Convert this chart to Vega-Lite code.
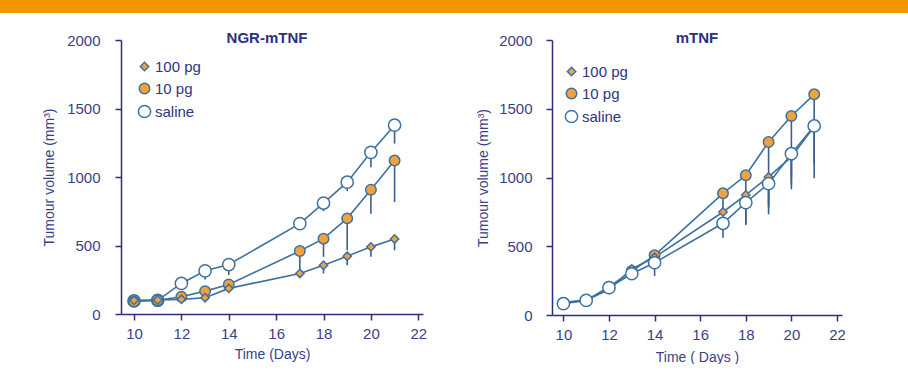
{
  "$schema": "https://vega.github.io/schema/vega-lite/v6.json",
  "background": "white",
  "padding": 0,
  "spacing": 18,
  "config": {
    "font": "Liberation Sans",
    "view": {"stroke": null},
    "axis": {
      "domainColor": "#2b2f7e", "tickColor": "#2b2f7e", "labelColor": "#3a3f88", "titleColor": "#3a3f88",
      "labelFont": "Liberation Sans", "titleFont": "Liberation Sans",
      "labelFontSize": 15, "titleFontSize": 14, "titleFontWeight": "normal",
      "grid": false, "domainWidth": 1.5, "tickWidth": 1.5, "tickSize": 6, "format": "d"
    },
    "legend": {"labelFont": "Liberation Sans", "labelFontSize": 15, "labelColor": "#2d3580", "padding": 0, "rowPadding": 5, "labelOffset": 3},
    "title": {"font": "Liberation Sans", "fontSize": 15, "fontWeight": "bold", "color": "#2b2f7e", "baseline": "alphabetic", "offset": -13}
  },
  "datasets": {
    "tumour": [
      {"panel": "NGR-mTNF", "series": "saline", "day": 10, "v": 95, "lo": 95},
      {"panel": "NGR-mTNF", "series": "saline", "day": 11, "v": 100, "lo": 100},
      {"panel": "NGR-mTNF", "series": "saline", "day": 12, "v": 223, "lo": 223},
      {"panel": "NGR-mTNF", "series": "saline", "day": 13, "v": 315, "lo": 252},
      {"panel": "NGR-mTNF", "series": "saline", "day": 14, "v": 361, "lo": 284},
      {"panel": "NGR-mTNF", "series": "saline", "day": 17, "v": 660, "lo": 660},
      {"panel": "NGR-mTNF", "series": "saline", "day": 18, "v": 810, "lo": 751},
      {"panel": "NGR-mTNF", "series": "saline", "day": 19, "v": 962, "lo": 897},
      {"panel": "NGR-mTNF", "series": "saline", "day": 20, "v": 1180, "lo": 1071},
      {"panel": "NGR-mTNF", "series": "saline", "day": 21, "v": 1378, "lo": 1244},
      {"panel": "NGR-mTNF", "series": "10 pg", "day": 10, "v": 92, "lo": 92},
      {"panel": "NGR-mTNF", "series": "10 pg", "day": 11, "v": 100, "lo": 100},
      {"panel": "NGR-mTNF", "series": "10 pg", "day": 12, "v": 126, "lo": 126},
      {"panel": "NGR-mTNF", "series": "10 pg", "day": 13, "v": 167, "lo": 140},
      {"panel": "NGR-mTNF", "series": "10 pg", "day": 14, "v": 216, "lo": 216},
      {"panel": "NGR-mTNF", "series": "10 pg", "day": 17, "v": 460, "lo": 296},
      {"panel": "NGR-mTNF", "series": "10 pg", "day": 18, "v": 550, "lo": 417},
      {"panel": "NGR-mTNF", "series": "10 pg", "day": 19, "v": 698, "lo": 465},
      {"panel": "NGR-mTNF", "series": "10 pg", "day": 20, "v": 907, "lo": 732},
      {"panel": "NGR-mTNF", "series": "10 pg", "day": 21, "v": 1120, "lo": 817},
      {"panel": "NGR-mTNF", "series": "100 pg", "day": 10, "v": 100, "lo": 100},
      {"panel": "NGR-mTNF", "series": "100 pg", "day": 11, "v": 102, "lo": 102},
      {"panel": "NGR-mTNF", "series": "100 pg", "day": 12, "v": 107, "lo": 107},
      {"panel": "NGR-mTNF", "series": "100 pg", "day": 13, "v": 119, "lo": 119},
      {"panel": "NGR-mTNF", "series": "100 pg", "day": 14, "v": 187, "lo": 187},
      {"panel": "NGR-mTNF", "series": "100 pg", "day": 17, "v": 296, "lo": 296},
      {"panel": "NGR-mTNF", "series": "100 pg", "day": 18, "v": 356, "lo": 296},
      {"panel": "NGR-mTNF", "series": "100 pg", "day": 19, "v": 422, "lo": 356},
      {"panel": "NGR-mTNF", "series": "100 pg", "day": 20, "v": 490, "lo": 417},
      {"panel": "NGR-mTNF", "series": "100 pg", "day": 21, "v": 548, "lo": 465},
      {"panel": "mTNF", "series": "10 pg", "day": 10, "v": 88, "lo": 88},
      {"panel": "mTNF", "series": "10 pg", "day": 11, "v": 106, "lo": 106},
      {"panel": "mTNF", "series": "10 pg", "day": 12, "v": 205, "lo": 205},
      {"panel": "mTNF", "series": "10 pg", "day": 13, "v": 320, "lo": 280},
      {"panel": "mTNF", "series": "10 pg", "day": 14, "v": 434, "lo": 420},
      {"panel": "mTNF", "series": "10 pg", "day": 17, "v": 885, "lo": 749},
      {"panel": "mTNF", "series": "10 pg", "day": 18, "v": 1016, "lo": 873},
      {"panel": "mTNF", "series": "10 pg", "day": 19, "v": 1258, "lo": 732},
      {"panel": "mTNF", "series": "10 pg", "day": 20, "v": 1447, "lo": 914},
      {"panel": "mTNF", "series": "10 pg", "day": 21, "v": 1605, "lo": 1375},
      {"panel": "mTNF", "series": "100 pg", "day": 10, "v": 92, "lo": 92},
      {"panel": "mTNF", "series": "100 pg", "day": 11, "v": 108, "lo": 108},
      {"panel": "mTNF", "series": "100 pg", "day": 12, "v": 185, "lo": 185},
      {"panel": "mTNF", "series": "100 pg", "day": 13, "v": 335, "lo": 290},
      {"panel": "mTNF", "series": "100 pg", "day": 14, "v": 420, "lo": 400},
      {"panel": "mTNF", "series": "100 pg", "day": 17, "v": 749, "lo": 640},
      {"panel": "mTNF", "series": "100 pg", "day": 18, "v": 873, "lo": 662},
      {"panel": "mTNF", "series": "100 pg", "day": 19, "v": 1004, "lo": 800},
      {"panel": "mTNF", "series": "100 pg", "day": 20, "v": 1150, "lo": 950},
      {"panel": "mTNF", "series": "100 pg", "day": 21, "v": 1370, "lo": 1100},
      {"panel": "mTNF", "series": "saline", "day": 10, "v": 82, "lo": 82},
      {"panel": "mTNF", "series": "saline", "day": 11, "v": 106, "lo": 106},
      {"panel": "mTNF", "series": "saline", "day": 12, "v": 199, "lo": 199},
      {"panel": "mTNF", "series": "saline", "day": 13, "v": 300, "lo": 260},
      {"panel": "mTNF", "series": "saline", "day": 14, "v": 380, "lo": 284},
      {"panel": "mTNF", "series": "saline", "day": 17, "v": 667, "lo": 562},
      {"panel": "mTNF", "series": "saline", "day": 18, "v": 817, "lo": 655},
      {"panel": "mTNF", "series": "saline", "day": 19, "v": 955, "lo": 780},
      {"panel": "mTNF", "series": "saline", "day": 20, "v": 1173, "lo": 1000},
      {"panel": "mTNF", "series": "saline", "day": 21, "v": 1375, "lo": 994}
    ]
  },
  "vconcat": [
    {
      "width": 908, "height": 13,
      "data": {"values": [{}]},
      "mark": {"type": "text"},
      "encoding": {},
      "view": {"fill": "#F29400", "stroke": null}
    },
    {
      "spacing": 0,
      "hconcat": [
        {
          "width": 42, "height": 10,
          "data": {"values": [{}]},
          "mark": {"type": "text"},
          "encoding": {}
        },
        {
          "spacing": 49,
          "resolve": {"scale": {"x": "independent", "y": "independent", "shape": "independent", "fill": "independent", "size": "independent"}, "legend": {"shape": "independent", "fill": "independent", "size": "independent"}},
          "hconcat": [
            {
              "title": {"text": "NGR-mTNF", "dx": -5},
              "width": 302, "height": 274,
              "data": {"name": "tumour"},
              "transform": [{"filter": "datum.panel === 'NGR-mTNF'"}],
              "encoding": {
                "x": {"field": "day", "type": "quantitative", "title": "Time (Days)",
                  "scale": {"domain": [9.45, 22.2], "nice": false, "zero": false},
                  "axis": {"values": [10, 12, 14, 16, 18, 20, 22], "labelPadding": 6, "titlePadding": 6, "labelFlush": false}},
                "y": {"field": "v", "type": "quantitative", "title": "Tumour volume (mm³)",
                  "scale": {"domain": [0, 2000], "nice": false},
                  "axis": {"values": [0, 500, 1000, 1500, 2000], "labelPadding": 15, "titlePadding": 10}}
              },
              "layer": [
                {"mark": {"type": "line", "color": "#3f719e", "strokeWidth": 1.6}, "encoding": {"detail": {"field": "series"}}},
                {"mark": {"type": "rule", "color": "#3a5f8e", "strokeWidth": 1.6}, "encoding": {"y2": {"field": "lo"}}},
                {"mark": {"type": "point", "filled": false, "stroke": "#3f719e", "strokeWidth": 1.5, "opacity": 1},
                  "encoding": {
                    "shape": {"field": "series", "type": "nominal", "scale": {"domain": ["100 pg", "10 pg", "saline"], "range": ["diamond", "circle", "circle"]},
                      "legend": {"title": null, "orient": "none", "legendX": 16, "legendY": 19}},
                    "fill": {"field": "series", "type": "nominal", "scale": {"domain": ["100 pg", "10 pg", "saline"], "range": ["#F2A23C", "#F2A23C", "#ffffff"]},
                      "legend": {"title": null, "orient": "none", "legendX": 16, "legendY": 19}},
                    "size": {"field": "series", "type": "nominal", "scale": {"domain": ["100 pg", "10 pg", "saline"], "range": [70, 150, 150]},
                      "legend": {"title": null, "orient": "none", "legendX": 16, "legendY": 19}}
                  }}
              ]
            },
            {
              "title": {"text": "mTNF"},
              "width": 290, "height": 275,
              "data": {"name": "tumour"},
              "transform": [{"filter": "datum.panel === 'mTNF'"}],
              "encoding": {
                "x": {"field": "day", "type": "quantitative", "title": "Time ( Days )",
                  "scale": {"domain": [9.5, 22.22], "nice": false, "zero": false},
                  "axis": {"values": [10, 12, 14, 16, 18, 20, 22], "labelPadding": 6, "titlePadding": 8, "labelFlush": false}},
                "y": {"field": "v", "type": "quantitative", "title": "Tumour volume (mm³)",
                  "scale": {"domain": [0, 2000], "nice": false},
                  "axis": {"values": [0, 500, 1000, 1500, 2000], "labelPadding": 14, "titlePadding": 8}}
              },
              "layer": [
                {"mark": {"type": "line", "color": "#3f719e", "strokeWidth": 1.6}, "encoding": {"detail": {"field": "series"}}},
                {"mark": {"type": "rule", "color": "#3a5f8e", "strokeWidth": 1.6}, "encoding": {"y2": {"field": "lo"}}},
                {"mark": {"type": "point", "filled": false, "stroke": "#3f719e", "strokeWidth": 1.5, "opacity": 1},
                  "encoding": {
                    "shape": {"field": "series", "type": "nominal", "scale": {"domain": ["100 pg", "10 pg", "saline"], "range": ["diamond", "circle", "circle"]},
                      "legend": {"title": null, "orient": "none", "legendX": 12, "legendY": 24}},
                    "fill": {"field": "series", "type": "nominal", "scale": {"domain": ["100 pg", "10 pg", "saline"], "range": ["#F2A23C", "#F2A23C", "#ffffff"]},
                      "legend": {"title": null, "orient": "none", "legendX": 12, "legendY": 24}},
                    "size": {"field": "series", "type": "nominal", "scale": {"domain": ["100 pg", "10 pg", "saline"], "range": [70, 150, 150]},
                      "legend": {"title": null, "orient": "none", "legendX": 12, "legendY": 24}}
                  }}
              ]
            }
          ]
        }
      ]
    }
  ]
}
